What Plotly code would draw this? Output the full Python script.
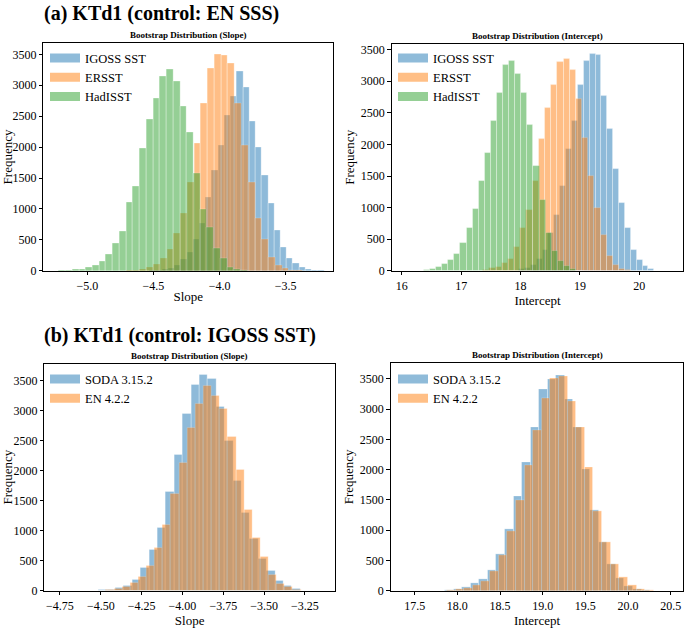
import plotly.graph_objects as go

FONT = "Liberation Serif"

# ---- bin counts (bootstrap histograms) ----
# (a) control: EN SSS -- slope
slope_a_igoss = [5, 11, 21, 43, 96, 186, 309, 516, 771, 1197, 1633, 2032, 2511, 2830,
                 3229, 2968, 2420, 1995, 1543, 1101, 665, 383, 202, 117, 53, 21, 11, 3]
slope_a_ersst = [5, 16, 27, 53, 106, 197, 346, 612, 931, 1436, 2059, 2713, 3271, 3510,
                 3495, 3351, 2713, 2032, 1436, 851, 505, 223, 96, 37, 16, 5]
slope_a_hadisst = [6, 11, 19, 32, 53, 96, 149, 277, 452, 649, 1117, 1362, 1979, 2447,
                   2793, 3154, 3261, 3059, 2670, 2245, 1585, 1000, 702, 372, 197, 64, 21, 5]
# (a) control: EN SSS -- intercept
icpt_a_igoss = [26, 52, 104, 198, 339, 609, 885, 1344, 1927, 2370, 2953, 3318, 3438,
                3427, 2776, 2250, 1615, 1083, 677, 328, 177, 78, 26, 8]
icpt_a_ersst = [16, 42, 68, 125, 193, 380, 688, 964, 1432, 2083, 2578, 2943, 3307, 3359,
                3188, 2719, 2109, 1510, 1000, 573, 234, 94, 36, 16]
icpt_a_hadisst = [2, 4, 8, 16, 36, 63, 115, 182, 271, 443, 677, 979, 1422, 1875, 2370,
                  2813, 3255, 3318, 3115, 2813, 2318, 1656, 1120, 599, 312, 156, 78, 26, 8]
# (b) control: IGOSS SST -- slope
slope_b_soda = [10, 22, 49, 82, 186, 383, 679, 1051, 1643, 2267, 2941, 3434, 3598, 3532,
                3067, 2503, 1829, 1300, 860, 540, 330, 160, 80, 27, 8]
slope_b_en = [8, 16, 35, 60, 131, 230, 422, 723, 1095, 1610, 2130, 2722, 3121, 3410,
              3242, 3023, 2557, 2010, 1353, 887, 559, 268, 120, 66, 20, 5]
# (b) control: IGOSS SST -- intercept
icpt_b_soda = [10, 27, 65, 120, 185, 348, 609, 1016, 1560, 2130, 2701, 3326, 3489, 3571,
               3163, 2701, 2010, 1330, 800, 440, 215, 70, 22, 10]
icpt_b_en = [5, 20, 50, 100, 160, 330, 590, 990, 1505, 2076, 2647, 3190, 3516, 3540,
             3136, 2700, 2049, 1315, 799, 446, 228, 95, 30, 10]

# first bin edge and bin width of each histogram
bins_slope_a = {"igoss": (-4.530, 0.0471), "ersst": (-4.706, 0.0512), "hadisst": (-5.217, 0.0509)}
bins_icpt_a = {"igoss": (17.97, 0.099), "ersst": (17.366, 0.104), "hadisst": (16.06, 0.1025)}
bins_slope_b = {"soda": (-4.514, 0.0514), "en": (-4.520, 0.0498)}
bins_icpt_b = {"soda": (17.855, 0.100), "en": (17.875, 0.101)}

BLUE, ORANGE, GREEN = (31, 119, 180), (255, 127, 14), (44, 160, 44)


def rgba(c, a):
    return "rgba(%d,%d,%d,%s)" % (c + (a,))


def hist(counts, bins, name, color, ax, legend):
    start, width = bins
    centers = [start + width * (i + 0.5) for i in range(len(counts))]
    bar = go.Bar(
        x=centers, y=counts, width=width, name=name, showlegend=False,
        marker=dict(color=rgba(color, 1), line=dict(width=0.3, color="white")),
        opacity=0.5, xaxis="x" + ax, yaxis="y" + ax,
    )
    # legend entry drawn as a wide patch, like matplotlib's
    key = go.Scatter(
        x=[None], y=[None], mode="lines", name=name,
        line=dict(color=rgba(color, 0.5), width=9),
        xaxis="x" + ax, yaxis="y" + ax, legend=legend,
    )
    return [bar, key]


traces = []
traces += hist(slope_a_igoss, bins_slope_a["igoss"], "IGOSS SST", BLUE, "", "legend")
traces += hist(slope_a_ersst, bins_slope_a["ersst"], "ERSST", ORANGE, "", "legend")
traces += hist(slope_a_hadisst, bins_slope_a["hadisst"], "HadISST", GREEN, "", "legend")
traces += hist(icpt_a_igoss, bins_icpt_a["igoss"], "IGOSS SST", BLUE, "2", "legend2")
traces += hist(icpt_a_ersst, bins_icpt_a["ersst"], "ERSST", ORANGE, "2", "legend2")
traces += hist(icpt_a_hadisst, bins_icpt_a["hadisst"], "HadISST", GREEN, "2", "legend2")
traces += hist(slope_b_soda, bins_slope_b["soda"], "SODA 3.15.2", BLUE, "3", "legend3")
traces += hist(slope_b_en, bins_slope_b["en"], "EN 4.2.2", ORANGE, "3", "legend3")
traces += hist(icpt_b_soda, bins_icpt_b["soda"], "SODA 3.15.2", BLUE, "4", "legend4")
traces += hist(icpt_b_en, bins_icpt_b["en"], "EN 4.2.2", ORANGE, "4", "legend4")
fig = go.Figure(traces)

W, H = 685, 629


def px_x(v):
    return v / W


def px_y(v):
    return 1 - v / H


axis_style = dict(
    showline=True, mirror=True, linecolor="black", linewidth=1,
    ticks="outside", ticklen=3.5, tickwidth=0.8, tickcolor="black",
    showgrid=False, zeroline=False,
    tickfont=dict(family=FONT, size=12, color="black"),
    title_font=dict(family=FONT, size=13, color="black"),
)
yticks = dict(tickvals=[0, 500, 1000, 1500, 2000, 2500, 3000, 3500])

# panel boxes in pixels: left, right, top, bottom
boxes = {
    "": (43.3, 333.3, 42.7, 273.3),
    "2": (391.7, 683.3, 43.3, 273.3),
    "3": (44.3, 335.0, 367.3, 597.3),
    "4": (390.7, 683.3, 366.7, 597.3),
}
xranges = {"": [-5.333, -3.140], "2": [15.83, 20.74], "3": [-4.846, -3.066], "4": [17.219, 20.648]}
yranges = {"": [0, 3681], "2": [0, 3594], "3": [0, 3779], "4": [0, 3761]}
xtitles = {"": "Slope", "2": "Intercept", "3": "Slope", "4": "Intercept"}
xticks = {
    "": dict(tickvals=[-5.0, -4.5, -4.0, -3.5], tickformat=".1f"),
    "2": dict(tickvals=[16, 17, 18, 19, 20], tickformat="d"),
    "3": dict(tickvals=[-4.75, -4.5, -4.25, -4.0, -3.75, -3.5, -3.25], tickformat=".2f"),
    "4": dict(tickvals=[17.5, 18.0, 18.5, 19.0, 19.5, 20.0, 20.5], tickformat=".1f"),
}

layout = {}
for ax, (l, r, t, b) in boxes.items():
    layout["xaxis" + ax] = dict(
        axis_style, domain=[px_x(l), px_x(r)], range=xranges[ax],
        anchor="y" + ax, title=dict(text=xtitles[ax], standoff=0), **xticks[ax],
    )
    layout["yaxis" + ax] = dict(
        axis_style, domain=[px_y(b), px_y(t)], range=yranges[ax],
        anchor="x" + ax, title=dict(text="Frequency", standoff=3), **yticks,
    )
fig.update_layout(**layout)

legend_style = dict(
    font=dict(family=FONT, size=12.5, color="black"),
    bgcolor="rgba(255,255,255,0)", borderwidth=0,
    xanchor="left", yanchor="top", itemclick=False,
)
fig.update_layout(
    legend=dict(legend_style, x=px_x(45), y=px_y(43)),
    legend2=dict(legend_style, x=px_x(393), y=px_y(43)),
    legend3=dict(legend_style, x=px_x(45), y=px_y(368)),
    legend4=dict(legend_style, x=px_x(393), y=px_y(368)),
)

annotations = [
    dict(text="<b>(a) KTd1 (control: EN SSS)</b>", x=px_x(42), y=px_y(13),
         font=dict(family=FONT, size=20, color="black")),
    dict(text="<b>(b) KTd1 (control: IGOSS SST)</b>", x=px_x(42), y=px_y(339),
         font=dict(family=FONT, size=20, color="black")),
]
for l, r, t, label in [
    (43.3, 333.3, 42.7, "Slope"), (391.7, 683.3, 43.3, "Intercept"),
    (44.3, 335.0, 367.3, "Slope"), (390.7, 683.3, 366.7, "Intercept"),
]:
    annotations.append(dict(
        text="<b>Bootstrap Distribution (%s)</b>" % label,
        x=px_x((l + r) / 2), y=px_y(t - 8), xanchor="center",
        font=dict(family=FONT, size=9, color="black"),
    ))
for a in annotations:
    a.update(xref="paper", yref="paper", showarrow=False, yanchor="middle")
    a.setdefault("xanchor", "left")

fig.update_layout(
    annotations=annotations,
    width=W, height=H,
    margin=dict(l=0, r=0, t=0, b=0),
    barmode="overlay", bargap=0,
    paper_bgcolor="white", plot_bgcolor="white",
    font=dict(family=FONT, color="black"),
)

# the page's default body margin would push the 685x629 figure off the window
fig.write_html("out.html", config={"displayModeBar": False},
               post_script="document.body.style.margin = '0';")
